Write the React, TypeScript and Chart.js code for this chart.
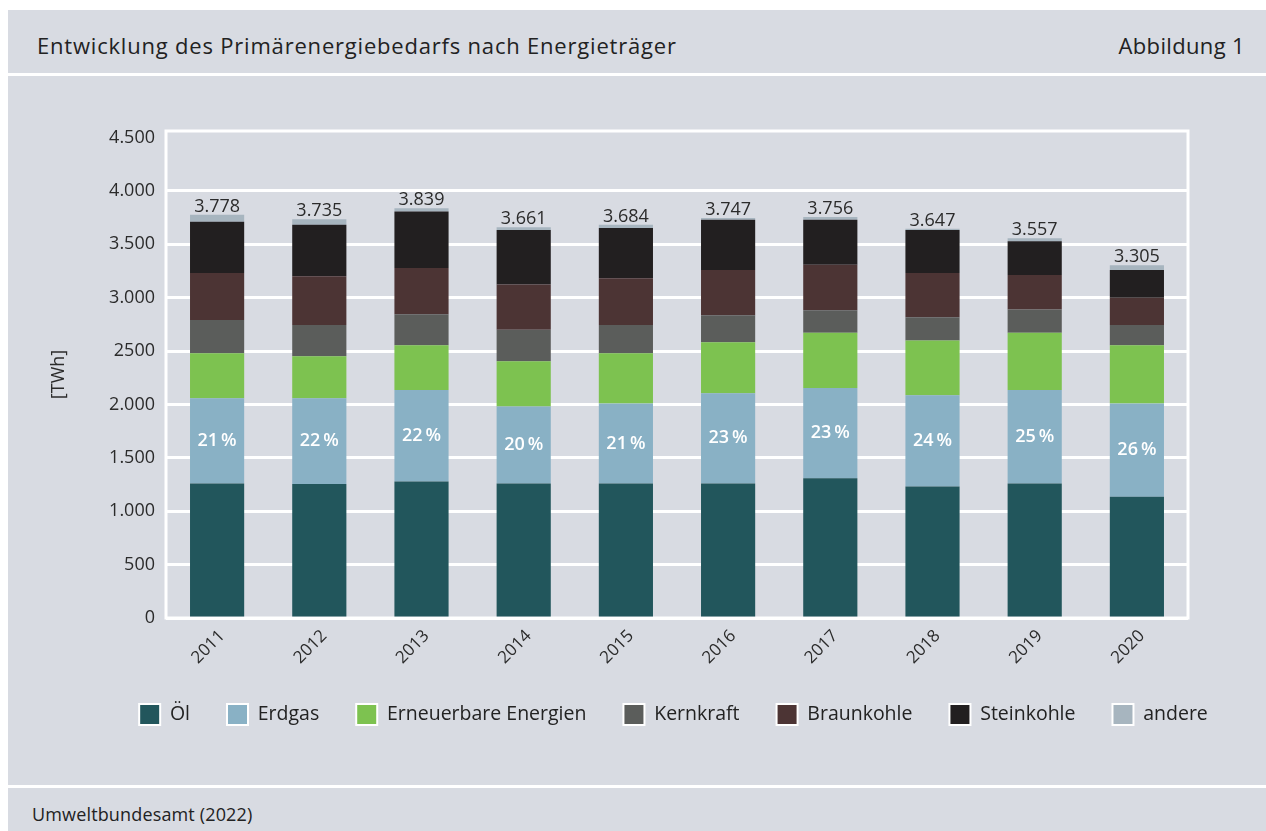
import React, { useEffect, useRef } from 'react';
import { Chart, registerables } from 'chart.js';

Chart.register(...registerables);

// ---- Data (TWh) ----
const years = ['2011', '2012', '2013', '2014', '2015', '2016', '2017', '2018', '2019', '2020'];
const oel = [1260, 1255, 1279, 1260, 1260, 1260, 1308, 1231, 1260, 1135];
const erdgas = [798, 803, 856, 721, 750, 846, 846, 856, 875, 875];
const erneuerbare = [423, 394, 420, 423, 471, 476, 519, 513, 538, 545];
const kernkraft = [310, 293, 290, 296, 264, 254, 209, 218, 218, 190];
const braunkohle = [440, 457, 434, 425, 438, 424, 426, 413, 321, 255];
const steinkohle = [481, 481, 529, 510, 471, 471, 423, 404, 317, 260];
const andere = [66, 52, 31, 26, 30, 16, 25, 12, 28, 45];
const totals = [3778, 3735, 3839, 3661, 3684, 3747, 3756, 3647, 3557, 3305];
const gasShares = [21, 22, 22, 20, 21, 23, 23, 24, 25, 26];
const seriesNames = ['Öl', 'Erdgas', 'Erneuerbare Energien', 'Kernkraft', 'Braunkohle', 'Steinkohle', 'andere'];
const seriesColors = ['#22565c', '#89b1c5', '#7dc250', '#5b5d5b', '#4c3434', '#221f20', '#a7b5bf'];
const yTickValues = [0, 500, 1000, 1500, 2000, 2500, 3000, 3500, 4000, 4500];
const yTickLabels = ['0', '500', '1.000', '1.500', '2.000', '2500', '3.000', '3.500', '4.000', '4.500'];
const yMax = 4562;

const FONT = "'Open Sans', sans-serif";
const BG = '#d8dbe2';

const fmt = (v: number) => String(v).replace(/\B(?=(\d{3})+(?!\d))/g, '.');

export default function App() {
  const ref = useRef<HTMLCanvasElement>(null);

  useEffect(() => {
    if (!ref.current) return;
    const series = [oel, erdgas, erneuerbare, kernkraft, braunkohle, steinkohle, andere];

    const plugin = {
      id: 'customDecor',
      afterLayout(chart: any) {
        const lg = chart.legend;
        if (lg) {
          const target = 665.5;
          const d = target - (lg.left + lg.right) / 2;
          lg.left += d;
          lg.right += d;
        }
      },
      beforeDatasetsDraw(chart: any) {
        const { ctx, chartArea: a } = chart;
        ctx.save();
        ctx.strokeStyle = '#ffffff';
        ctx.lineWidth = 3;
        ctx.strokeRect(a.left, a.top, a.right - a.left, a.bottom - a.top);
        ctx.restore();
      },
      afterDatasetsDraw(chart: any) {
        const ctx = chart.ctx;
        const topMeta = chart.getDatasetMeta(series.length - 1);
        const gasMeta = chart.getDatasetMeta(1);
        ctx.save();
        ctx.textAlign = 'center';
        ctx.textBaseline = 'alphabetic';
        ctx.font = `400 18px ${FONT}`;
        ctx.fillStyle = '#2b2b2b';
        topMeta.data.forEach((bar: any, i: number) => {
          ctx.fillText(fmt(totals[i]), bar.x, bar.y - 3);
        });
        ctx.textBaseline = 'middle';
        ctx.font = `600 18px ${FONT}`;
        ctx.fillStyle = '#ffffff';
        gasMeta.data.forEach((bar: any, i: number) => {
          ctx.fillText(`${gasShares[i]}\u2009%`, bar.x, (bar.y + bar.base) / 2);
        });
        ctx.restore();
      },
    };

    const chart = new Chart(ref.current, {
      type: 'bar',
      data: {
        labels: years,
        datasets: series.map((d, i) => ({
          label: seriesNames[i],
          data: d,
          backgroundColor: seriesColors[i],
          borderWidth: 0,
          categoryPercentage: 1,
          barPercentage: 0.53,
        })),
      },
      options: {
        responsive: false,
        animation: false,
        devicePixelRatio: 1,
        layout: { padding: { left: 36, right: 78, top: 55, bottom: 50 } },
        plugins: {
          tooltip: { enabled: false },
          legend: {
            position: 'bottom',
            labels: {
              boxWidth: 21,
              boxHeight: 21,
              padding: 37,
              color: '#222222',
              font: { family: FONT, size: 19.5 },
              generateLabels: (c: any) =>
                Chart.defaults.plugins.legend.labels.generateLabels(c).map((it: any) => ({
                  ...it,
                  strokeStyle: '#ffffff',
                  lineWidth: 2,
                })),
            },
          },
        },
        scales: {
          x: {
            stacked: true,
            grid: { display: false, drawTicks: false },
            border: { display: false },
            ticks: {
              minRotation: 45,
              maxRotation: 45,
              padding: 8,
              labelOffset: 5,
              color: '#2b2b2b',
              font: { family: FONT, size: 17 },
            },
            afterFit: (s: any) => {
              s.height = 49;
            },
          },
          y: {
            stacked: true,
            min: 0,
            max: yMax,
            bounds: 'data',
            grid: {
              color: (c: any) => (c.tick && c.tick.value === 4500 ? 'rgba(0,0,0,0)' : '#ffffff'),
              lineWidth: 3,
              drawTicks: false,
            },
            border: { display: false },
            afterBuildTicks: (s: any) => {
              s.ticks = yTickValues.map((v) => ({ value: v }));
              s.min = 0;
              s.max = yMax;
            },
            ticks: {
              autoSkip: false,
              padding: 11,
              color: '#2b2b2b',
              font: { family: FONT, size: 18 },
              callback: (v: any) => yTickLabels[yTickValues.indexOf(Number(v))] ?? '',
            },
            title: {
              display: true,
              text: '[TWh]',
              color: '#2b2b2b',
              font: { family: FONT, size: 18 },
            },
            afterFit: (s: any) => {
              s.width = 122;
            },
          },
        },
      },
      plugins: [plugin],
    } as any);

    return () => chart.destroy();
  }, []);

  return (
    <div
      style={{
        position: 'absolute',
        left: 8,
        top: 10,
        right: 0,
        height: 830,
        background: BG,
        fontFamily: FONT,
        color: '#222222',
      }}
    >
      <div style={{ position: 'relative', height: 63 }}>
        <div
          style={{
            position: 'absolute',
            left: 29,
            top: 24,
            fontSize: 22,
            lineHeight: '22px',
            letterSpacing: '0.8px',
            whiteSpace: 'nowrap',
          }}
        >
          Entwicklung des Primärenergiebedarfs nach Energieträger
        </div>
        <div
          style={{
            position: 'absolute',
            right: 21,
            top: 24,
            fontSize: 22,
            lineHeight: '22px',
            letterSpacing: '0.35px',
            whiteSpace: 'nowrap',
          }}
        >
          Abbildung 1
        </div>
      </div>
      <div style={{ height: 3, background: '#ffffff' }} />
      <div style={{ height: 709 }}>
        <canvas ref={ref} width={1258} height={709} style={{ display: 'block', width: 1258, height: 709 }} />
      </div>
      <div style={{ height: 3, background: '#ffffff' }} />
      <div style={{ position: 'relative', height: 60 }}>
        <div
          style={{
            position: 'absolute',
            left: 24,
            top: 18,
            fontSize: 18,
            lineHeight: '17px',
            letterSpacing: '0.15px',
            whiteSpace: 'nowrap',
          }}
        >
          Umweltbundesamt (2022)
        </div>
      </div>
    </div>
  );
}
